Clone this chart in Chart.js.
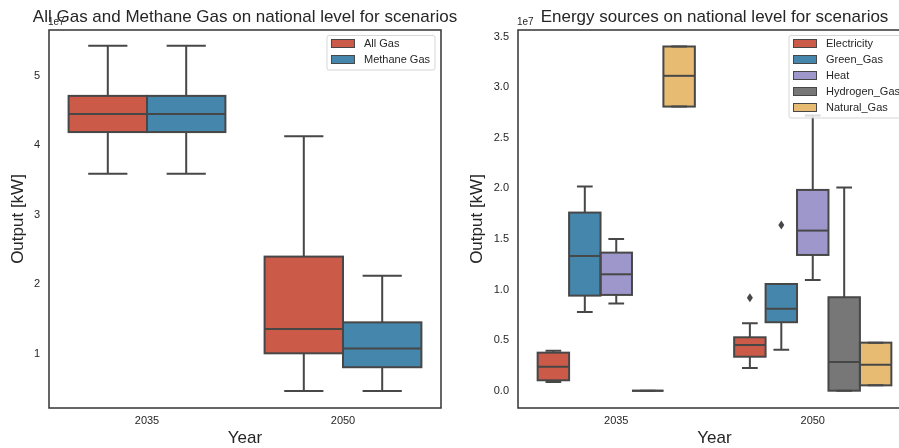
<!DOCTYPE html>
<html><head><meta charset="utf-8">
<script src="https://cdn.jsdelivr.net/npm/chart.js@4.4.1/dist/chart.umd.min.js"></script>
<style>
html,body{margin:0;padding:0;background:#fff;overflow:hidden;width:899px;height:448px}
canvas{position:absolute;top:0}
#c1{left:0}
#c2{left:450px}
</style></head><body>
<canvas id="c1" width="470" height="448"></canvas>
<canvas id="c2" width="470" height="448"></canvas>
<script>
// Categories
const years = ['2035', '2050'];

// Five-number summaries per year: [min, q1, median, q3, max] (units of 1e7 kW)
const allGas      = [[3.59, 4.19, 4.45, 4.71, 5.43], [0.47, 1.01, 1.36, 2.40, 4.13]];
const methaneGas  = [[3.59, 4.19, 4.45, 4.71, 5.43], [0.47, 0.81, 1.08, 1.455, 2.125]];

const electricity = [[0.086, 0.103, 0.237, 0.376, 0.396], [0.225, 0.336, 0.452, 0.528, 0.667]];
const greenGas    = [[0.778, 0.94, 1.332, 1.761, 2.018], [0.406, 0.677, 0.811, 1.055, 1.055]];
const heat        = [[0.861, 0.947, 1.151, 1.365, 1.50], [1.095, 1.342, 1.583, 1.985, 2.72]];
const hydrogenGas = [[0, 0, 0, 0, 0], [0, 0, 0.284, 0.924, 2.008]];
const naturalGas  = [[2.809, 2.809, 3.113, 3.403, 3.403], [0.053, 0.053, 0.257, 0.475, 0.475]];

// Outliers per year
const electricityOut = [[], [0.92]];
const greenGasOut    = [[], [1.639]];

// Tick labels
const gasTicks    = [1, 2, 3, 4, 5];
const energyTicks = [0, 0.5, 1, 1.5, 2, 2.5, 3, 3.5];

const FONT = '"Liberation Sans", Arial, Helvetica, sans-serif';
const LINE = '#474747';
const TXT = '#262626';

function ds(label, stats, color, outliers) {
  return {
    label, stats, outliers: outliers || [[], []],
    data: stats.map(s => [s[1], s[3]]),
    backgroundColor: color, borderWidth: 0,
    categoryPercentage: 0.8, barPercentage: 1.0
  };
}

function boxPlugin(o) {
  return {
    id: 'boxdraw',
    afterDatasetsDraw(chart) {
      const ctx = chart.ctx, y = chart.scales.y;
      ctx.save();
      ctx.strokeStyle = LINE; ctx.fillStyle = LINE; ctx.lineWidth = 2;
      chart.data.datasets.forEach((d, i) => {
        const meta = chart.getDatasetMeta(i);
        meta.data.forEach((bar, j) => {
          const p = bar.getProps(['x', 'width'], true);
          const x = p.x, hw = p.width / 2, cw = p.width / 4;
          const [mn, q1, md, q3, mx] = d.stats[j].map(v => y.getPixelForValue(v));
          ctx.beginPath();
          ctx.moveTo(x, q3); ctx.lineTo(x, mx);
          ctx.moveTo(x, q1); ctx.lineTo(x, mn);
          ctx.moveTo(x - cw, mx); ctx.lineTo(x + cw, mx);
          ctx.moveTo(x - cw, mn); ctx.lineTo(x + cw, mn);
          ctx.stroke();
          ctx.strokeRect(x - hw, q3, hw * 2, q1 - q3);
          ctx.beginPath();
          ctx.moveTo(x - hw, md); ctx.lineTo(x + hw, md);
          ctx.stroke();
          (d.outliers[j] || []).forEach(v => {
            const py = y.getPixelForValue(v);
            ctx.beginPath();
            ctx.moveTo(x, py - 4.5); ctx.lineTo(x + 3, py);
            ctx.lineTo(x, py + 4.5); ctx.lineTo(x - 3, py);
            ctx.closePath(); ctx.fill();
          });
        });
      });
      ctx.restore();
    },
    afterDraw(chart) {
      const ctx = chart.ctx, a = chart.chartArea;
      ctx.save();
      // spines
      ctx.strokeStyle = '#333'; ctx.lineWidth = 1.5;
      ctx.strokeRect(a.left, a.top, a.right - a.left, a.bottom - a.top);
      // legend
      ctx.font = '11px ' + FONT;
      const dss = chart.data.datasets;
      const maxW = Math.max(...dss.map(d => ctx.measureText(d.label).width));
      const lw = 37 + maxW + 5;
      const lx = a.right - 6 - lw, ly = a.top + 5.5;
      const lh = 8 + 16 * (dss.length - 1) + 10.5;
      ctx.beginPath();
      ctx.roundRect(lx, ly, lw, lh, 2);
      ctx.fillStyle = 'rgba(255,255,255,0.8)'; ctx.fill();
      ctx.strokeStyle = 'rgba(204,204,204,0.8)'; ctx.lineWidth = 1; ctx.stroke();
      dss.forEach((d, i) => {
        const cy = ly + 8 + 16 * i;
        ctx.fillStyle = d.backgroundColor;
        ctx.fillRect(lx + 4.5, cy - 4, 23, 8);
        ctx.strokeStyle = LINE; ctx.lineWidth = 1;
        ctx.strokeRect(lx + 4.5, cy - 4, 23, 8);
        ctx.fillStyle = TXT; ctx.textBaseline = 'middle'; ctx.textAlign = 'left';
        ctx.fillText(d.label, lx + 37, cy);
      });
      // offset text
      ctx.fillStyle = TXT; ctx.textBaseline = 'alphabetic';
      ctx.font = '10px ' + FONT; ctx.textAlign = 'left';
      ctx.fillText('1e7', a.left - 1, 25);
      // title
      ctx.font = '17px ' + FONT; ctx.textAlign = 'center';
      ctx.fillText(o.title, (a.left + a.right) / 2, 22);
      // x label
      ctx.fillText('Year', (a.left + a.right) / 2, 443);
      // y label
      ctx.save();
      ctx.translate(o.yLabelX, (a.top + a.bottom) / 2);
      ctx.rotate(-Math.PI / 2);
      ctx.fillText('Output [kW]', 0, 0);
      ctx.restore();
      ctx.restore();
    }
  };
}

function makeChart(id, datasets, ticks, yMin, yMax, fmt, yWidth, padRight, title, yLabelX) {
  return new Chart(document.getElementById(id), {
    type: 'bar',
    data: { labels: years, datasets },
    options: {
      responsive: false, animation: false, devicePixelRatio: 1,
      layout: { padding: { left: 0, right: padRight, top: 30, bottom: 0 } },
      plugins: { legend: { display: false }, title: { display: false }, tooltip: { enabled: false } },
      scales: {
        x: {
          grid: { display: false, drawTicks: false }, border: { display: false },
          ticks: { font: { size: 11, family: FONT }, color: TXT, padding: 6 },
          afterFit: s => { s.height = 40; }
        },
        y: {
          min: yMin, max: yMax,
          grid: { display: false, drawTicks: false }, border: { display: false },
          ticks: { font: { size: 11, family: FONT }, color: TXT, padding: 9, callback: fmt },
          afterBuildTicks: s => { s.ticks = ticks.map(v => ({ value: v })); },
          afterFit: s => { s.width = yWidth; }
        }
      }
    },
    plugins: [boxPlugin({ title, yLabelX })]
  });
}

makeChart('c1', [
  ds('All Gas', allGas, '#cc5a49'),
  ds('Methane Gas', methaneGas, '#4586ac')
], gasTicks, 0.224, 5.657, v => String(v), 49, 29,
  'All Gas and Methane Gas on national level for scenarios', 23);

makeChart('c2', [
  ds('Electricity', electricity, '#cc5a49', electricityOut),
  ds('Green_Gas', greenGas, '#4586ac', greenGasOut),
  ds('Heat', heat, '#9e97cc'),
  ds('Hydrogen_Gas', hydrogenGas, '#777777'),
  ds('Natural_Gas', naturalGas, '#e7bc72')
], energyTicks, -0.171, 3.566, v => v.toFixed(1), 68, 9,
  'Energy sources on national level for scenarios', 32);
</script>
</body></html>
